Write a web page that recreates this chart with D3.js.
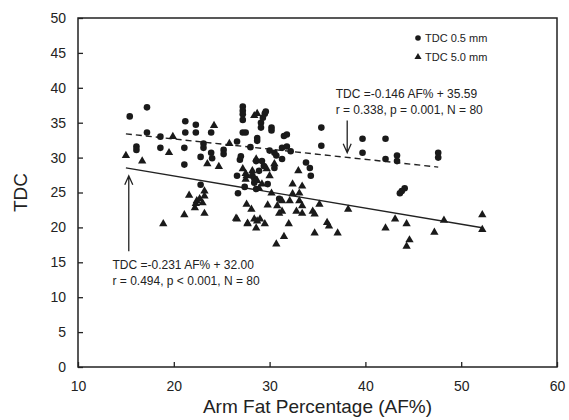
<!DOCTYPE html>
<html>
<head>
<meta charset="utf-8">
<script src="https://cdn.jsdelivr.net/npm/d3@7.9.0/dist/d3.min.js"></script>
<style>
  body { margin: 0; background: #fff; }
  svg { font-family: "Liberation Sans", Arial, sans-serif; }
</style>
</head>
<body>
<div id="chart"></div>
<script>
// TDC 0.5 mm  [AF%, TDC]
const tdc05 = [
  [15.4,35.9],[17.2,37.2],[16.1,31.6],[16.1,31.1],[17.2,33.6],[18.6,33.0],[18.6,31.4],
  [21.2,35.2],[21.2,33.6],[21.1,31.4],[21.1,29.0],[22.3,34.7],[22.3,33.6],[23.9,33.6],
  [23.1,32.0],[23.1,31.4],[23.9,30.7],[22.8,30.1],[25.2,31.1],[25.2,30.5],[22.8,26.1],
  [27.2,37.3],[27.2,36.7],[27.2,36.2],[27.2,35.4],[27.2,33.6],[27.5,33.6],[26.6,27.4],
  [26.7,24.9],[27.4,25.8],[29.5,36.3],[29.3,35.7],[29.1,35.0],[29.1,34.3],[30.2,34.3],
  [30.2,33.9],[28.7,32.8],[28.7,32.4],[28.6,29.5],[29.2,29.5],[30.5,30.7],[30.7,30.3],
  [31.3,31.4],[31.8,31.6],[31.8,33.3],[31.3,29.8],[30.5,28.5],[28.9,28.1],[29.4,28.8],
  [33.8,29.3],[34.2,28.5],[34.3,27.4],[35.4,34.3],[35.4,31.7],[39.7,32.7],[39.7,30.7],
  [42.1,32.7],[42.1,29.8],[28.2,27.4],[28.4,27.0],[28.4,26.4],[43.3,30.3],[43.3,29.5],
  [47.6,30.7],[47.6,30.0],[44.1,25.6],[43.8,25.2],[43.6,24.9],[28.6,25.5],[31.0,24.1],
  [31.5,33.1],[26.9,29.7],[28.0,31.5],[30.0,31.0],[24.0,29.9],[32.2,30.9],[27.0,30.2],
  [29.8,26.2],[26.6,32.3],[29.6,36.6]
];

// TDC 5.0 mm  [AF%, TDC]
const tdc50 = [
  [15.0,30.3],[16.7,29.5],[19.9,33.0],[19.5,30.7],[24.2,34.6],[23.5,29.1],[24.7,28.7],
  [25.8,32.0],[21.6,24.6],[23.2,25.2],[23.2,24.5],[23.0,23.5],[22.4,23.8],[22.2,22.8],
  [23.2,22.0],[21.1,21.8],[18.9,20.5],[26.6,21.2],[27.7,20.6],[27.5,27.7],[27.5,26.9],
  [28.1,22.6],[27.2,28.4],[27.6,27.4],[28.2,28.1],[28.7,26.7],[29.2,26.2],[28.9,25.6],
  [30.5,29.1],[30.2,24.9],[32.4,26.2],[32.4,24.8],[27.6,23.3],[29.8,23.2],[30.8,23.1],
  [31.3,23.8],[32.1,23.8],[33.1,23.8],[26.5,21.3],[28.4,21.2],[28.7,20.9],[29.5,20.5],
  [32.0,20.5],[31.3,22.3],[28.7,36.3],[28.6,29.8],[33.0,28.1],[33.4,25.9],[33.1,24.9],
  [33.4,23.1],[35.2,23.3],[38.2,22.6],[32.8,22.3],[33.4,22.0],[34.5,22.3],[34.7,21.9],
  [28.6,19.9],[31.5,18.7],[30.7,17.6],[34.7,19.2],[36.0,20.7],[36.2,20.2],[37.1,19.2],
  [42.1,19.9],[43.1,21.2],[44.3,20.5],[44.6,18.2],[44.3,17.3],[47.2,19.3],[48.2,21.0],
  [52.2,21.8],[52.2,19.7],[29.7,28.4],[27.7,20.5],[22.7,24.1],[29.0,21.2],[22.3,23.4],
  [30.0,27.4],[28.4,36.0],[31.0,22.0]
];

const xTicks = [10, 20, 30, 40, 50, 60];
const yTicks = [0, 5, 10, 15, 20, 25, 30, 35, 40, 45, 50];

// regression fits: slope, intercept, x range
const fit05 = {slope: -0.146, intercept: 35.59, from: 15, to: 47.6};
const fit50 = {slope: -0.231, intercept: 32.00, from: 15, to: 52.2};

const legendLabels = ['TDC 0.5 mm', 'TDC 5.0 mm'];
const note05 = ['TDC =-0.146 AF% + 35.59', 'r = 0.338, p = 0.001, N = 80'];
const note50 = ['TDC =-0.231 AF% + 32.00', 'r = 0.494, p < 0.001, N = 80'];

const width = 569, height = 420;
const margin = {top: 18, right: 12, bottom: 55, left: 78};

const svg = d3.select('#chart')
  .append('svg')
  .attr('width', width)
  .attr('height', height);

const x = d3.scaleLinear()
  .domain([10, 60])
  .range([margin.left, width - margin.right]);
const y = d3.scaleLinear()
  .domain([0, 50])
  .range([height - margin.bottom + 2, margin.top]);

// frame
svg.append('rect')
  .attr('x', x(10)).attr('y', y(50))
  .attr('width', x(60) - x(10)).attr('height', y(0) - y(50))
  .attr('fill', 'none').attr('stroke', '#222').attr('stroke-width', 1.5);

// axes, ticks point inward
const xAxis = svg.append('g')
  .attr('transform', `translate(0,${y(0)})`)
  .call(d3.axisBottom(x).tickValues(xTicks).tickSize(-5).tickPadding(14));
const yAxis = svg.append('g')
  .attr('transform', `translate(${x(10)},0)`)
  .call(d3.axisLeft(y).tickValues(yTicks).tickSize(-5).tickPadding(12));

[xAxis, yAxis].forEach(g => {
  g.select('.domain').remove();
  g.selectAll('line').attr('stroke', '#222').attr('stroke-width', 1.3);
  g.selectAll('text').attr('fill', '#222').style('font-size', '14px');
});

// axis titles
svg.append('text')
  .attr('x', (x(10) + x(60)) / 2)
  .attr('y', 413)
  .attr('text-anchor', 'middle')
  .style('font-size', '19px')
  .attr('fill', '#222')
  .text('Arm Fat Percentage (AF%)');
svg.append('text')
  .attr('transform', `translate(27,${y(25)}) rotate(-90)`)
  .attr('text-anchor', 'middle')
  .style('font-size', '19px')
  .attr('fill', '#222')
  .text('TDC');

// regression lines
function fitLine(f, dash) {
  svg.append('line')
    .attr('x1', x(f.from)).attr('y1', y(f.slope * f.from + f.intercept))
    .attr('x2', x(f.to)).attr('y2', y(f.slope * f.to + f.intercept))
    .attr('stroke', '#222').attr('stroke-width', 1.4)
    .attr('stroke-dasharray', dash);
}
fitLine(fit05, '6,4');
fitLine(fit50, null);

// points
const tri = d3.symbol().type(d3.symbolTriangle).size(30);
svg.append('g')
  .selectAll('path')
  .data(tdc50)
  .join('path')
    .attr('d', tri)
    .attr('transform', d => `translate(${x(d[0])},${y(d[1])})`)
    .attr('fill', '#1a1a1a');
svg.append('g')
  .selectAll('circle')
  .data(tdc05)
  .join('circle')
    .attr('cx', d => x(d[0]))
    .attr('cy', d => y(d[1]))
    .attr('r', 3.3)
    .attr('fill', '#1a1a1a');

// legend
const legend = svg.append('g').style('font-size', '11px').attr('fill', '#222');
legend.append('circle').attr('cx', 418).attr('cy', 38).attr('r', 2.8).attr('fill', '#1a1a1a');
legend.append('path').attr('d', d3.symbol().type(d3.symbolTriangle).size(22))
  .attr('transform', 'translate(418,57)').attr('fill', '#1a1a1a');
legend.selectAll('text')
  .data(legendLabels)
  .join('text')
    .attr('x', 425)
    .attr('y', (d, i) => 42 + i * 19)
    .text(d => d);

// annotations with arrows
function arrow(xv, y0, y1) {
  const px = x(xv), p0 = y(y0), p1 = y(y1);
  const dir = p1 > p0 ? -1 : 1;
  svg.append('path')
    .attr('d', `M${px},${p0}L${px},${p1}M${px - 4},${p1 + dir * 9}L${px},${p1}L${px + 4},${p1 + dir * 9}`)
    .attr('fill', 'none').attr('stroke', '#222').attr('stroke-width', 1.3);
}
function note(lines, xv, yv) {
  svg.append('g')
    .selectAll('text')
    .data(lines)
    .join('text')
      .attr('x', x(xv))
      .attr('y', (d, i) => y(yv) + i * 16)
      .style('font-size', '12px')
      .attr('fill', '#222')
      .text(d => d);
}
arrow(38.1, 35.3, 30.7);
arrow(15.3, 16.6, 27.4);
note(note05, 36.9, 38.5);
note(note50, 13.6, 14.1);
</script>
</body>
</html>
